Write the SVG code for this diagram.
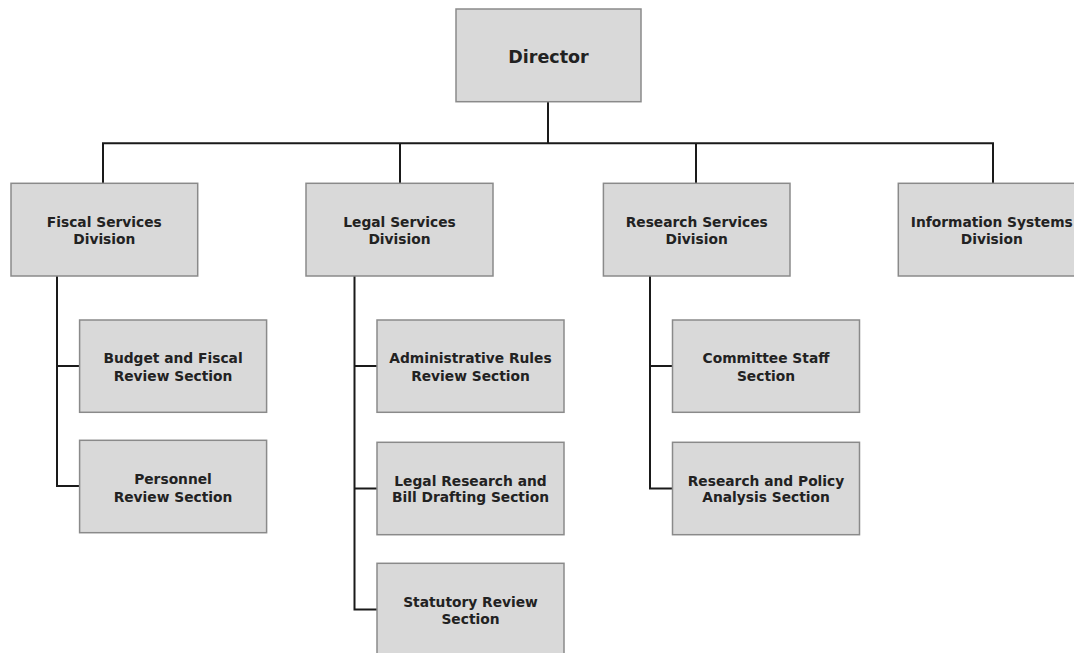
<svg xmlns="http://www.w3.org/2000/svg" width="1074" height="653" viewBox="0 0 1074 653">
<style>
.box{fill:#d9d9d9;stroke:#8a8a8a;stroke-width:1.5}
.t{font-family:"DejaVu Sans",Verdana,sans-serif;font-weight:bold;font-size:13.8px;fill:#222;text-anchor:middle}
.d{font-size:17.5px}
.c{fill:none;stroke:#1a1a1a;stroke-width:2}
</style>
<rect width="1074" height="653" fill="#fff"/>
<g id="connectors">
<path class="c" d="M548 101.7V143.3M103 183.3V143.3H993V183.3M400 143.3V183.3M696 143.3V183.3"/>
<path class="c" d="M57 276V486H80M57 366H80"/>
<path class="c" d="M354.5 276V609.5H377M354.5 366H377M354.5 488.5H377"/>
<path class="c" d="M650 276V488.5H673M650 366H673"/>
</g>
<g id="director"><rect class="box" x="456" y="9" width="185" height="92.7"/><text class="t d" x="548.5" y="63">Director</text></g>
<g id="fiscal"><rect class="box" x="11" y="183.3" width="186.7" height="92.7"/><text class="t" x="104.3" y="227">Fiscal Services</text><text class="t" x="104.3" y="244">Division</text></g>
<g id="legal"><rect class="box" x="306" y="183.3" width="187" height="92.7"/><text class="t" x="399.5" y="227">Legal Services</text><text class="t" x="399.5" y="244">Division</text></g>
<g id="research"><rect class="box" x="603.4" y="183.3" width="186.6" height="92.7"/><text class="t" x="696.7" y="227">Research Services</text><text class="t" x="696.7" y="244">Division</text></g>
<g id="info"><rect class="box" x="898.3" y="183.3" width="187" height="92.7"/><text class="t" x="991.8" y="227">Information Systems</text><text class="t" x="991.8" y="244">Division</text></g>
<g id="budget"><rect class="box" x="79.6" y="320" width="187" height="92.3"/><text class="t" x="173" y="363">Budget and Fiscal</text><text class="t" x="173" y="380.5">Review Section</text></g>
<g id="personnel"><rect class="box" x="79.6" y="440.3" width="187" height="92.4"/><text class="t" x="173" y="484">Personnel</text><text class="t" x="173" y="501.5">Review Section</text></g>
<g id="admin"><rect class="box" x="377" y="320" width="187" height="92.3"/><text class="t" x="470.5" y="363">Administrative Rules</text><text class="t" x="470.5" y="380.5">Review Section</text></g>
<g id="legalresearch"><rect class="box" x="377" y="442.3" width="187" height="92.4"/><text class="t" x="470.5" y="486">Legal Research and</text><text class="t" x="470.5" y="501.5">Bill Drafting Section</text></g>
<g id="statutory"><rect class="box" x="377" y="563.3" width="187" height="95"/><text class="t" x="470.5" y="606.5">Statutory Review</text><text class="t" x="470.5" y="624">Section</text></g>
<g id="committee"><rect class="box" x="672.5" y="320" width="187" height="92.3"/><text class="t" x="766" y="363">Committee Staff</text><text class="t" x="766" y="380.5">Section</text></g>
<g id="policy"><rect class="box" x="672.5" y="442.3" width="187" height="92.4"/><text class="t" x="766" y="486">Research and Policy</text><text class="t" x="766" y="501.5">Analysis Section</text></g>
</svg>
